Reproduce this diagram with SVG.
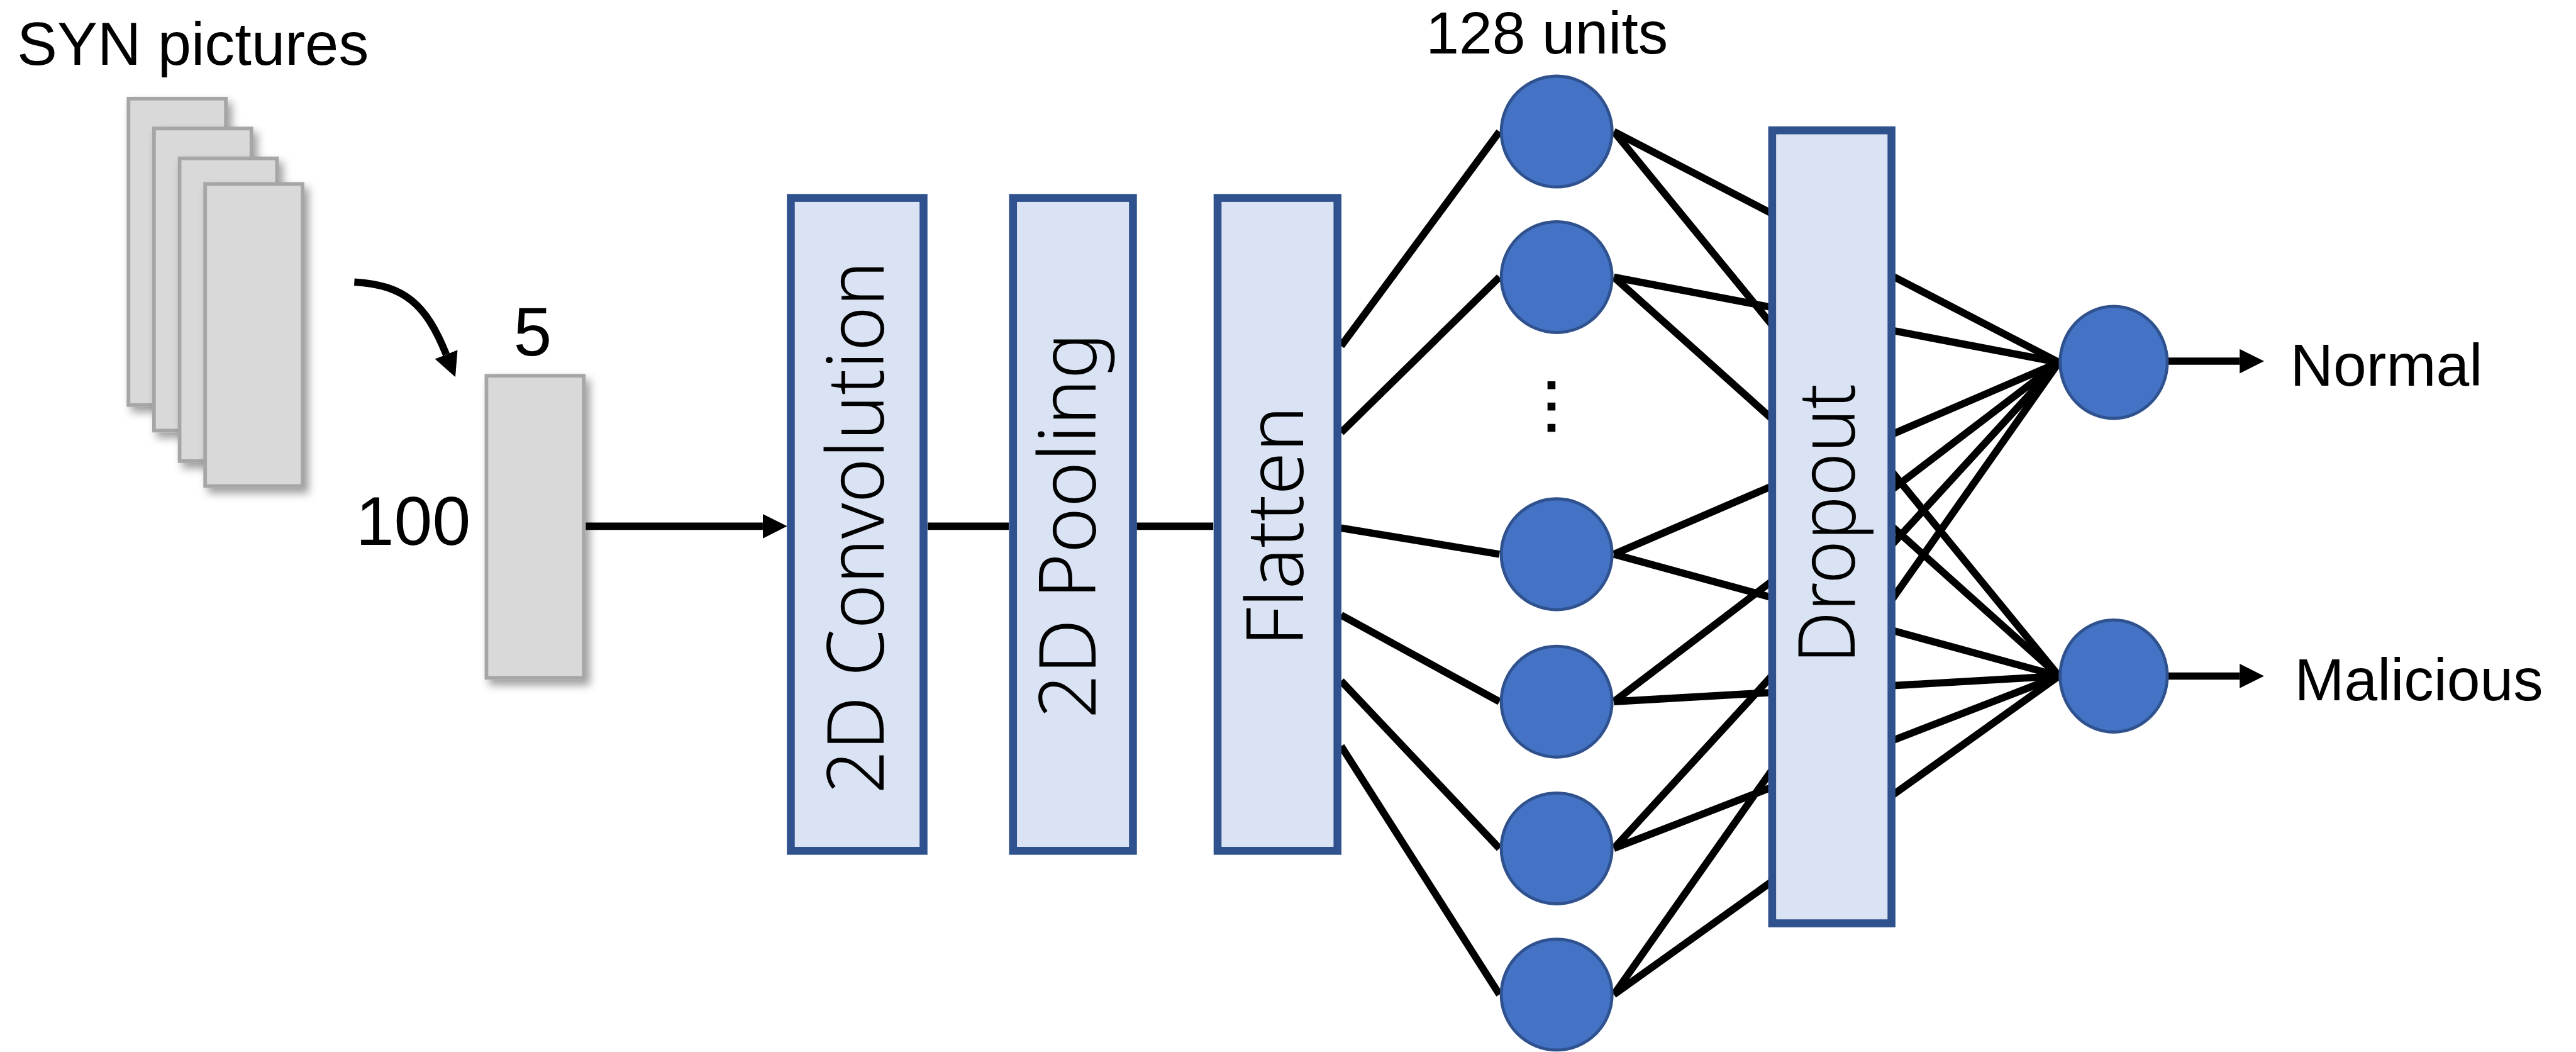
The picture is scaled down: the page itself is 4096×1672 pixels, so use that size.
<svg xmlns="http://www.w3.org/2000/svg" width="4096" height="1672" viewBox="0 0 4096 1672">
<style>
.lbl{font-family:"Liberation Sans",Arial,sans-serif;fill:#000}
.vlbl{font-family:"Noto Sans","DejaVu Sans",sans-serif;font-weight:300;font-size:130px;fill:#000;text-anchor:middle}
.pic{fill:#D9D9D9;stroke:#A6A6A6;stroke-width:6;filter:url(#sh)}
.layer{fill:#DAE3F3;stroke:#2F528F;stroke-width:13}
.unit{fill:#4472C4;stroke:#2F528F;stroke-width:5}
.ln{fill:none;stroke:#000;stroke-width:12}
.arr{fill:none;stroke:#000;stroke-width:12;marker-end:url(#ah)}
</style>
<defs>
<filter id="sh" x="-30%" y="-30%" width="170%" height="170%">
<feDropShadow dx="7" dy="9" stdDeviation="7" flood-color="#000" flood-opacity="0.38"/>
</filter>
<marker id="ah" markerUnits="userSpaceOnUse" markerWidth="44" markerHeight="44" viewBox="0 0 44 44" refX="0" refY="22" orient="auto">
<path d="M0,2 L40,22 L0,42 z" fill="#000"/>
</marker>
</defs>
<rect width="4096" height="1672" fill="#fff"/>
<g transform="scale(0.968)">
<g id="connectors">
<path class="arr" d="M582,463 C665,468 700,500 733,582"/>
<path class="arr" d="M962,864 H1253"/>
<path class="ln" d="M1524,864 H1657"/>
<path class="ln" d="M1867,864 H1993"/>
<path class="ln" d="M2203,568 L2463,216"/>
<path class="ln" d="M2203,710 L2463,455"/>
<path class="ln" d="M2203,867 L2463,910"/>
<path class="ln" d="M2203,1010 L2463,1152"/>
<path class="ln" d="M2203,1118 L2463,1393"/>
<path class="ln" d="M2203,1225 L2463,1633"/>
<path class="ln" d="M2651,216 L3382,595 M2651,216 L3382,1110"/>
<path class="ln" d="M2651,455 L3382,595 M2651,455 L3382,1110"/>
<path class="ln" d="M2651,910 L3382,595 M2651,910 L3382,1110"/>
<path class="ln" d="M2651,1152 L3382,595 M2651,1152 L3382,1110"/>
<path class="ln" d="M2651,1393 L3382,595 M2651,1393 L3382,1110"/>
<path class="ln" d="M2651,1633 L3382,595 M2651,1633 L3382,1110"/>
<path class="arr" d="M3561,593 H3679"/>
<path class="arr" d="M3561,1110 H3679"/>
</g>
<g id="syn-pictures">
<text class="lbl" x="28" y="106" font-size="99">SYN pictures</text>
<rect class="pic" x="211" y="162" width="160" height="503"/>
<rect class="pic" x="253" y="211" width="160" height="496"/>
<rect class="pic" x="295" y="260" width="160" height="497"/>
<rect class="pic" x="337" y="302" width="160" height="496"/>
</g>
<g id="input">
<rect class="pic" x="799" y="617" width="160" height="496"/>
<text class="lbl" x="875" y="584" font-size="113" text-anchor="middle">5</text>
<text class="lbl" x="773" y="895" font-size="113" text-anchor="end">100</text>
</g>
<g id="conv">
<rect class="layer" x="1299" y="325" width="218" height="1072"/>
<text class="vlbl" transform="translate(1451,866) rotate(-90)" textLength="875" lengthAdjust="spacingAndGlyphs">2D Convolution</text>
</g>
<g id="pool">
<rect class="layer" x="1664" y="325" width="197" height="1072"/>
<text class="vlbl" transform="translate(1800,863) rotate(-90)" textLength="634" lengthAdjust="spacingAndGlyphs">2D Pooling</text>
</g>
<g id="flatten">
<rect class="layer" x="2000" y="325" width="197" height="1072"/>
<text class="vlbl" transform="translate(2141,864) rotate(-90)" textLength="395" lengthAdjust="spacingAndGlyphs">Flatten</text>
</g>
<g id="hidden">
<text class="lbl" x="2541" y="88" font-size="98" text-anchor="middle">128 units</text>
<circle class="unit" cx="2557" cy="216" r="91"/>
<circle class="unit" cx="2557" cy="455" r="91"/>
<rect x="2542" y="626" width="13" height="13" fill="#000"/>
<rect x="2542" y="661" width="13" height="13" fill="#000"/>
<rect x="2542" y="696" width="13" height="13" fill="#000"/>
<circle class="unit" cx="2557" cy="910" r="91"/>
<circle class="unit" cx="2557" cy="1152" r="91"/>
<circle class="unit" cx="2557" cy="1393" r="91"/>
<circle class="unit" cx="2557" cy="1633" r="91"/>
</g>
<g id="dropout">
<rect class="layer" x="2911" y="214" width="196" height="1302"/>
<text class="vlbl" transform="translate(3047,860) rotate(-90)" textLength="460" lengthAdjust="spacingAndGlyphs">Dropout</text>
</g>
<g id="out-normal">
<ellipse class="unit" cx="3472" cy="595" rx="88" ry="92"/>
<text class="lbl" x="3762" y="633" font-size="98">Normal</text>
</g>
<g id="out-malicious">
<ellipse class="unit" cx="3472" cy="1110" rx="88" ry="92"/>
<text class="lbl" x="3769" y="1150" font-size="98">Malicious</text>
</g>
</g>
</svg>
